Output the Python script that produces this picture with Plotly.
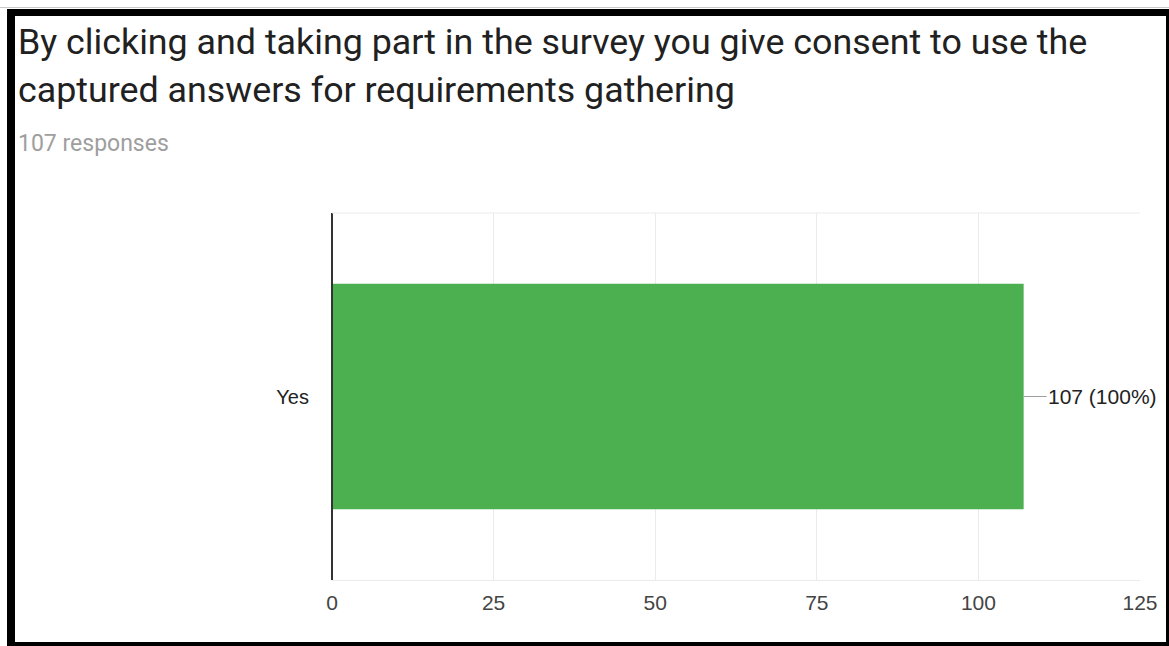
import plotly.graph_objects as go

# Survey responses
categories = ["Yes"]
counts = [107]
total_responses = 107
tick_values = [0, 25, 50, 75, 100, 125]

title_lines = [
    "By clicking and taking part in the survey you give consent to use the",
    "captured answers for requirements gathering",
]
subtitle = f"{total_responses} responses"

W, H = 1169, 646
L, R, T, B = 332, 29, 213, 66
PW, PH = W - L - R, H - T - B


def px(x):
    return (x - L) / PW


def py(y):
    return (H - B - y) / PH


labels = [f"{c} ({c / total_responses:.0%})" for c in counts]
num_font = dict(family="Arial, Liberation Sans", size=21, color="#444444")

fig = go.Figure()
fig.add_trace(go.Bar(
    x=counts, y=categories, orientation="h",
    marker=dict(color="#4caf50", line=dict(width=0)),
    hoverinfo="skip",
))

# Value labels with leader lines
for c, cat, lab in zip(counts, categories, labels):
    fig.add_annotation(
        x=c, y=cat, xref="x", yref="y", text=lab,
        showarrow=True, arrowhead=0, arrowwidth=1, arrowcolor="#9e9e9e",
        ax=23, ay=0, xanchor="left", standoff=0, borderpad=0,
        font=dict(family="Arial, Liberation Sans", size=21, color="#222222"),
    )

# Title block
for i, line in enumerate(title_lines):
    fig.add_annotation(x=px(16), y=py(42 + 48 * i), xref="paper", yref="paper", text=line,
                       showarrow=False, xanchor="left", yanchor="middle",
                       font=dict(family="Roboto", size=35.8, color="#212121"))
fig.add_annotation(x=px(16), y=py(143), xref="paper", yref="paper", text=subtitle,
                   showarrow=False, xanchor="left", yanchor="middle",
                   font=dict(family="Roboto", size=23, color="#9e9e9e"))

# Frame around the card
frame = [
    (0, 7, W, 8, "#c8c8c8"),
    (7, 9, W, 16, "#000000"),
    (7, 9, 15, H, "#000000"),
    (1166, 9, W, H, "#000000"),
    (7, 642, W, H, "#000000"),
]
for x0, y0, x1, y1, col in frame:
    fig.add_shape(type="rect", xref="paper", yref="paper",
                  x0=px(x0), x1=px(x1), y0=py(y1), y1=py(y0),
                  fillcolor=col, line=dict(width=0), layer="above")

# Left axis line
fig.add_shape(type="line", xref="paper", yref="paper", x0=0, x1=0, y0=0, y1=1,
              line=dict(color="#333333", width=2), layer="above")

fig.update_layout(
    width=W, height=H,
    margin=dict(l=L, r=R, t=T, b=B),
    paper_bgcolor="white", plot_bgcolor="white",
    showlegend=False, bargap=0.385,
    xaxis=dict(range=[0, 125], tickvals=tick_values, showgrid=True,
               gridcolor="#ebebeb", gridwidth=1, zeroline=False,
               showline=True, linecolor="#ebebeb", mirror=False,
               ticks="", tickfont=num_font,
               ticklabelstandoff=4, fixedrange=True),
    yaxis=dict(showgrid=False, zeroline=False, showline=False, ticks="",
               tickfont=dict(family="Arial, Liberation Sans", size=20, color="#222222"),
               ticklabelstandoff=22, fixedrange=True),
)
# top edge of the plot area
fig.add_shape(type="line", xref="paper", yref="paper", x0=0, x1=1, y0=1, y1=1,
              line=dict(color="#ebebeb", width=1))

fig.write_html("out.html", config={"displayModeBar": False})
